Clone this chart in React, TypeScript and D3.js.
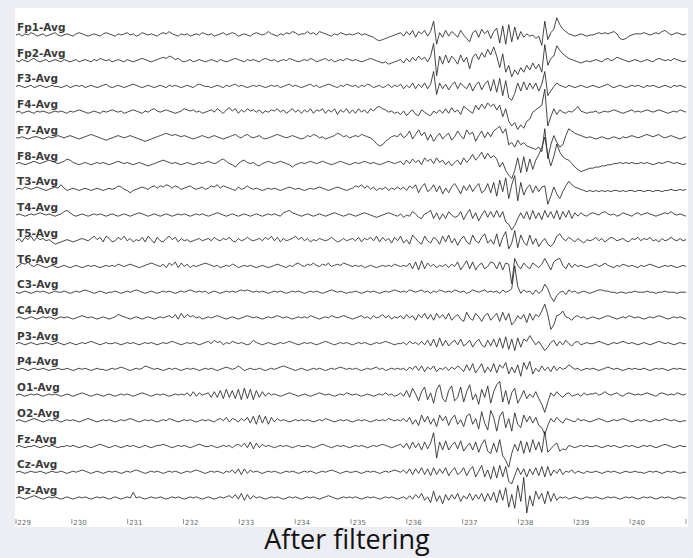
import React from "react";
import * as d3 from "d3";

const CHANNELS = ["Fp1-Avg","Fp2-Avg","F3-Avg","F4-Avg","F7-Avg","F8-Avg","T3-Avg","T4-Avg","T5-Avg","T6-Avg","C3-Avg","C4-Avg","P3-Avg","P4-Avg","O1-Avg","O2-Avg","Fz-Avg","Cz-Avg","Pz-Avg"];
const TICKS = [229,230,231,232,233,234,235,236,237,238,239,240,241];
const TICK_LABELS = ["229","230","231","232","233","234","235","236","237","238","239","240",""];
const T_START = 229;
const T_END = 241;

const FP1 = [
0,1,-1,1,0,2,1,-1,0,1,-1,0,1,2,0,-1,
0,1,0,-1,1,2,1,0,-1,0,1,0,-1,1,2,1,
0,-1,1,0,1,2,0,1,-1,0,2,1,0,1,0,-1,
1,2,1,3,1,0,-1,1,0,1,-1,0,1,0,2,1,
0,1,-1,0,1,2,0,1,2,1,-1,0,1,0,-1,1,
2,1,0,1,3,1,0,-1,1,0,2,1,3,2,0,1,
1,3,1,2,0,3,2,1,0,-1,1,0,2,1,0,1,
0,1,2,0,1,0,-1,-2,-4,-5,-4,-3,-2,-1,0,1,
2,-1,3,0,4,-2,3,1,4,-1,3,12,-8,2,-2,4,
-1,3,1,-2,4,0,-3,-6,2,4,-2,5,1,4,-3,3,
6,-7,8,-8,9,-6,7,-4,3,-2,1,-1,0,-3,-1,-9,
12,-4,2,5,15,9,5,3,1,0,-1,0,1,0,-1,0,
0,1,2,1,2,1,2,3,1,-3,-4,-3,-1,0,1,1,
1,2,1,0,1,2,1,3,4,2,0,1,2,1,0,1];

const FP2 = [
0,-1,1,0,-1,1,2,0,-1,0,1,-1,0,1,0,-1,
1,0,-1,0,1,-1,0,1,0,-1,1,0,2,1,0,1,
-1,0,1,0,-1,1,0,-1,0,1,2,1,0,-1,0,1,
2,3,2,4,3,1,2,0,-1,0,1,-1,0,1,0,-1,
0,1,0,-1,1,0,-1,0,1,2,1,0,-1,1,0,1,
0,-1,1,2,1,0,1,-1,0,1,0,2,1,0,-1,0,
1,0,2,1,-1,0,1,2,0,1,-1,0,1,0,2,1,
0,1,0,-1,0,1,2,1,0,-1,-2,-1,-3,-2,-1,0,
1,-2,2,-1,3,0,4,1,3,-1,4,15,-13,4,-3,5,
-2,4,1,-3,5,-1,3,-7,3,6,1,7,3,10,5,12,
4,-6,6,-10,-4,-14,-8,-12,-6,-10,-4,-8,-2,-7,-3,-10,
14,-4,2,4,13,9,6,4,2,1,0,-1,-2,-1,0,-1,
0,1,0,-1,1,2,0,1,3,2,1,0,-1,0,1,0,
-1,0,1,0,-1,1,2,1,0,1,0,2,1,0,-1,0];

const F3 = [
0,1,0,-1,0,1,-1,0,1,0,-1,0,1,0,0,-1,
0,1,-1,0,1,0,1,-1,0,1,0,-1,0,1,2,0,
-1,0,1,0,-1,0,1,2,1,0,-1,0,1,0,-1,0,
1,0,-1,1,0,1,0,-1,0,1,0,-1,1,2,1,0,
0,-1,0,1,0,-1,1,0,1,2,0,1,0,-1,0,1,
0,1,0,-1,0,1,0,1,-1,0,1,2,0,1,0,-1,
0,1,2,0,1,-1,0,1,2,1,0,-1,1,0,2,1,
0,1,-1,1,0,2,1,-1,0,1,-1,0,2,-1,1,0,
2,-2,1,-1,3,-2,2,-1,3,-2,2,13,-7,3,-2,2,
-3,1,4,-2,3,0,-2,3,-4,1,4,-3,2,5,-4,6,
-5,7,-8,5,-10,-12,-6,3,-4,4,-3,3,-2,3,-4,2,
13,-8,-4,0,3,1,0,-1,1,0,-1,0,1,0,-1,0,
1,0,-1,0,1,2,0,-1,0,1,0,-1,0,1,0,1,
0,-1,1,0,1,0,-1,0,1,0,-1,1,0,1,0,-1];

const F4 = [
0,1,-1,0,1,0,-1,1,0,1,0,-1,0,1,0,1,
0,-1,1,0,1,2,1,0,-1,0,1,0,-1,1,0,1,
2,1,0,1,-1,0,1,2,1,0,-1,1,0,2,3,1,
0,1,2,1,0,-1,0,1,3,2,1,2,0,1,-1,0,
1,2,0,3,1,-1,2,4,1,3,-1,2,0,3,1,2,
0,2,-1,1,0,2,1,3,0,2,-1,1,3,0,2,-1,
2,0,3,-1,2,1,3,-1,2,0,3,-2,2,0,3,-1,
2,-1,3,0,2,-1,3,1,4,5,3,2,0,1,-1,0,
-2,1,-3,0,2,-2,-3,2,0,-2,-3,1,-1,2,-1,3,
-1,4,0,2,-2,5,3,1,-1,6,2,7,3,8,5,7,
2,6,-4,3,-8,-12,-9,-15,-11,-14,-8,-6,0,2,4,6,
20,-12,-4,3,-2,2,0,-1,1,0,2,5,1,0,-1,0,
0,1,-1,0,1,0,1,2,1,0,-1,0,1,2,0,1,
0,1,2,1,0,1,2,1,0,-1,0,1,0,2,1,0];

const F7 = [
0,0,1,0,-1,0,1,1,0,-1,0,1,0,1,2,1,
0,1,2,1,0,-1,0,1,2,3,2,1,0,-1,-2,-1,
0,1,2,1,0,1,2,1,0,-1,-2,-3,-2,-1,0,1,
2,3,4,3,2,3,2,1,2,1,0,-1,0,1,2,1,
0,1,2,1,0,-1,0,1,2,3,1,0,2,3,1,0,
1,2,0,-1,0,1,2,3,2,1,0,1,2,1,0,-1,
0,2,1,3,2,0,1,-1,0,1,2,4,3,1,2,0,
1,2,1,3,2,1,0,-2,-5,-7,-6,-3,-1,1,2,1,
4,0,2,6,-1,3,7,2,5,-2,3,-3,1,4,-1,2,
4,-2,1,6,2,-1,7,3,5,-3,2,6,0,5,1,6,
8,10,4,8,-6,-4,-8,-2,-6,-4,-7,-8,-9,-10,-8,-12,
8,-18,-6,2,-4,-8,-6,2,8,6,4,3,2,1,0,1,
0,-1,0,1,0,-1,0,1,0,-1,1,0,1,2,1,0,
1,2,3,2,1,2,3,1,0,1,2,1,0,-1,0,1];

const F8 = [
0,1,0,-1,0,1,2,1,0,1,2,3,2,1,0,1,
2,4,3,1,0,-1,0,1,0,-1,0,1,0,1,0,-1,
0,1,2,1,0,1,0,-1,0,1,0,-1,-2,-1,0,1,
2,3,2,1,0,1,0,-1,0,1,0,-1,0,1,0,1,
2,1,0,1,3,4,2,0,-1,-3,0,2,3,1,0,1,
-1,-2,0,1,2,1,0,1,2,1,0,-1,-3,-1,0,1,
0,1,2,1,0,1,2,1,0,-1,0,1,2,1,0,-1,
0,1,0,1,2,1,0,1,0,-1,0,1,2,1,0,1,
2,-1,3,0,4,1,3,-1,5,2,4,0,5,1,3,-1,
2,-2,1,3,-1,5,1,4,8,3,6,10,4,9,5,7,
4,-3,1,-6,-10,-13,-6,5,-8,6,-7,4,-5,3,8,14,
23,8,-2,6,17,10,6,4,3,0,-3,-5,-7,-6,-5,-4,
-4,-3,-3,-2,-2,-1,-1,0,0,1,0,1,0,1,0,0,
1,0,1,0,-1,0,1,0,1,2,1,0,1,0,-1,0];

const T3 = [
0,1,0,2,1,0,1,2,1,0,-1,0,1,2,1,4,
1,-1,0,1,0,-1,0,1,0,-1,0,1,0,-1,0,1,
0,1,3,2,0,-1,-3,-1,0,1,2,1,0,2,3,1,
3,2,4,3,1,3,2,0,1,2,3,1,0,1,2,0,
1,3,2,4,1,3,2,1,0,-1,2,0,1,3,1,0,
1,0,-1,0,1,0,1,0,-1,0,1,2,1,0,1,0,
-1,0,1,0,1,2,1,0,-1,0,1,2,1,0,-1,0,
1,3,2,4,1,3,0,2,-1,1,0,2,-1,1,0,2,
0,2,-1,3,1,4,-3,2,5,-2,0,4,-2,3,-4,1,
-3,2,5,1,-4,3,-1,4,-2,2,5,-3,-1,5,-3,6,
-6,8,-2,10,-8,4,12,-10,6,-5,1,4,-3,3,-2,2,
3,-13,-6,2,-4,-8,-2,3,7,4,2,1,0,-1,-2,-1,
-2,-1,-2,-1,-2,-1,-2,-1,-1,-2,-1,-2,-1,-1,-2,-1,
-1,-2,-1,-1,-2,-1,-1,-2,-1,-1,0,-1,-1,0,-1,0];

const T4 = [
0,1,0,-1,0,1,0,1,2,1,0,1,0,-1,0,1,
3,4,2,0,-1,0,1,0,-1,0,1,0,1,0,-1,0,
1,0,-1,0,1,0,-1,0,1,2,1,0,-1,0,1,0,
-1,0,1,0,-1,0,1,0,1,0,-1,0,1,0,1,0,
-1,0,1,2,1,0,-1,0,1,0,-1,0,1,0,-1,0,
1,0,-1,0,1,0,1,0,-1,2,3,4,2,1,0,-1,
0,1,0,-1,0,1,0,-1,0,1,2,1,0,-1,0,1,
0,-1,0,1,2,1,0,-1,-2,-1,0,1,2,1,0,-1,
1,-2,0,-1,3,1,-2,-3,1,2,4,-3,2,-4,1,-3,
3,0,-2,-1,3,-4,1,5,-3,2,-5,0,4,-2,3,-2,
4,-2,3,-6,-8,-13,-9,-3,2,-3,3,-4,4,-3,2,-4,
4,-2,3,-3,4,-4,3,-2,4,-3,2,-1,2,0,-1,1,
2,1,0,2,3,1,0,1,-1,0,2,1,0,-1,1,2,
0,1,2,1,0,-1,0,1,2,1,3,1,0,1,0,-1];

const T5 = [
0,2,-1,3,1,4,0,3,1,2,0,1,-1,-3,-2,-1,
0,1,0,-1,0,1,2,1,0,2,4,1,3,-1,4,2,
-1,0,3,1,4,0,2,-1,1,0,3,-1,4,1,-2,3,
0,-1,2,4,1,3,-1,2,0,1,-1,0,1,2,0,1,
2,0,3,1,0,2,1,3,0,-1,2,0,1,3,1,0,
1,2,0,3,1,4,0,3,-1,2,0,1,2,4,1,3,
0,2,-1,1,0,2,1,0,1,3,1,-1,0,2,0,1,
2,0,3,-1,2,1,3,0,4,-1,3,0,2,-2,3,0,
4,-2,1,-3,5,2,-1,-3,4,0,-2,3,1,-3,4,-1,
5,-2,2,-4,1,4,-1,-3,5,0,-2,3,6,-2,1,-3,
6,-5,3,8,-7,-2,9,-6,5,-1,-4,5,-3,2,-5,-1,
2,-3,-5,-2,4,6,2,0,3,1,-1,2,0,-2,1,0,
1,3,0,2,-1,1,3,2,0,1,2,0,-1,2,1,3,
0,2,1,3,0,1,-1,2,0,1,3,1,0,2,0,1];

const T6 = [
-1,1,3,2,4,1,0,2,1,0,-1,0,1,0,-1,0,
1,0,-1,0,1,0,-1,0,1,0,1,0,-1,0,1,0,
1,0,2,1,0,1,2,1,0,-1,0,1,2,3,2,1,
0,2,-1,3,1,4,-1,3,0,2,-1,1,0,1,2,3,
2,1,0,1,-1,0,1,0,2,1,-1,0,1,0,1,0,
-1,0,1,0,-1,0,1,2,1,0,-1,1,0,2,3,1,
0,2,1,3,1,0,2,1,3,0,1,2,1,3,2,1,
0,1,0,1,-1,0,1,0,-1,0,1,0,1,0,2,1,
0,1,0,3,-2,4,-3,5,-2,3,0,2,-1,1,0,2,
-1,2,0,4,-3,1,5,-2,4,-3,1,3,-2,0,4,3,
-2,4,-3,3,2,-15,7,1,-2,3,0,-2,3,1,-1,2,
7,2,-3,4,6,7,1,-2,3,-1,2,0,1,0,-1,0,
1,2,0,1,3,1,0,-1,1,0,2,1,0,1,0,-1,
1,0,1,2,1,0,-1,0,1,0,1,0,-1,0,1,0];

const C3 = [
0,-1,0,1,0,-1,0,1,0,1,0,-1,0,1,0,0,
1,0,-1,0,1,0,1,2,1,0,-1,0,1,0,-1,0,
0,1,0,-1,0,1,0,1,2,1,0,-1,0,1,0,-1,
0,1,0,1,0,-1,0,1,0,1,2,1,0,1,0,1,
-1,0,1,0,-1,0,1,0,1,0,1,2,1,2,1,0,
1,0,1,0,-1,0,1,0,1,0,-1,0,1,0,1,0,
-1,0,1,0,1,0,-1,0,1,2,1,0,1,0,-1,0,
0,1,0,-1,0,1,0,1,0,-1,0,1,0,1,2,1,
0,1,0,2,1,0,1,2,0,1,-1,1,0,2,1,0,
1,0,2,1,0,1,-1,0,2,1,0,1,2,0,1,0,
1,-1,2,0,1,3,23,5,-1,2,0,1,-2,2,-1,1,
7,3,-4,-8,-3,0,1,-2,2,0,1,-1,0,1,0,-1,
0,1,2,2,1,1,0,0,-1,0,0,-1,0,0,1,0,
0,0,1,0,0,-1,0,0,1,0,0,0,-1,0,0,0];

const C4 = [
0,1,0,-1,0,1,0,-1,0,1,0,1,0,-1,0,1,
0,1,0,-1,0,1,2,1,0,1,0,-1,0,1,0,-1,
0,1,3,2,1,0,-1,0,1,0,-1,0,1,0,-1,0,
1,0,1,2,0,3,-1,4,0,3,1,2,0,1,-1,0,
1,0,1,2,1,0,-1,0,1,0,-1,0,1,2,1,0,
1,0,-1,0,1,0,1,2,1,0,1,0,-1,0,1,0,
1,0,2,1,0,-1,0,1,0,2,1,0,1,2,1,0,
-1,0,1,2,0,1,-1,2,0,1,3,0,2,-1,1,0,
2,-1,3,0,2,-2,3,0,4,-1,3,-2,4,0,3,-1,
4,-2,1,3,-1,-3,5,0,-2,4,1,-3,2,4,-2,1,
4,-3,5,-2,4,-6,-3,2,-1,3,-4,4,-2,3,1,6,
12,3,-10,-6,2,3,6,1,0,-2,1,2,0,1,-1,0,
1,0,-1,0,1,2,1,0,-1,0,1,0,2,1,0,1,
0,-1,0,1,0,1,2,1,0,-1,0,1,0,1,0,-1];

const P3 = [
0,1,0,-1,0,1,0,-1,0,0,1,0,-1,0,1,0,
-1,0,1,0,-1,0,1,0,1,2,1,0,-1,0,1,0,
0,1,0,-1,0,1,0,1,0,-1,0,1,0,1,0,-1,
0,1,0,1,2,1,0,-1,0,1,0,1,0,-1,0,1,
2,0,3,1,2,-1,1,0,2,1,0,1,0,-1,0,3,
1,0,-1,0,1,0,-1,0,1,0,1,2,1,0,-1,0,
1,0,1,0,-1,0,1,2,1,0,-1,0,1,0,1,0,
-1,0,1,0,1,0,-1,0,1,0,1,2,1,0,-1,0,
0,1,-1,2,0,1,-1,2,-1,3,-2,4,-3,5,-2,3,
-2,1,3,-1,4,-2,0,3,-3,1,4,-1,-3,3,-2,4,
-3,5,-4,6,-5,4,-6,5,-3,4,2,7,3,-1,2,-2,
-6,-3,1,3,-2,2,-1,3,0,-2,1,2,-1,0,1,0,
0,1,2,1,0,-1,0,1,0,1,2,1,0,1,0,-1,
0,1,0,-1,0,1,2,1,0,1,0,-1,0,1,0,0];

const P4 = [
0,0,1,0,-1,0,1,0,0,1,0,-1,0,0,1,0,
0,1,0,-1,0,1,0,1,0,-1,0,1,0,0,-1,0,
1,0,1,2,1,0,-1,0,1,0,1,3,2,1,0,1,
0,-1,0,1,0,1,0,-1,0,1,0,1,0,-1,0,1,
0,1,0,-1,0,1,2,1,0,1,3,1,-1,0,1,0,
0,1,0,-1,0,1,0,1,2,3,2,1,0,-1,0,1,
0,-1,0,1,0,1,0,-1,0,1,0,1,2,1,0,1,
0,1,0,-1,0,1,0,1,2,0,1,-1,0,1,0,1,
0,1,-1,2,0,3,-1,3,-2,2,0,3,-2,1,0,2,
-1,2,0,3,1,-2,4,-1,5,-3,1,5,-3,2,-2,5,
-3,4,1,6,-4,2,-3,4,-6,6,0,7,-4,1,-2,3,
-1,2,-2,3,-1,2,0,1,4,2,0,1,-1,0,1,0,
1,0,-1,0,1,2,1,0,1,0,-1,0,1,0,1,0,
0,1,0,-1,0,1,0,1,0,-1,0,1,0,1,0,0];

const O1 = [
0,1,0,-1,0,1,0,1,0,-1,0,1,0,1,0,-1,
0,1,0,-1,0,1,2,1,0,-1,0,1,0,-1,0,1,
0,-1,0,1,0,1,0,-1,0,1,2,1,0,-1,0,1,
0,1,0,-1,0,1,0,1,0,2,-1,3,-1,2,0,1,
2,-2,3,-2,4,-3,5,-2,4,-3,5,-4,6,-3,5,-4,
4,-2,3,-1,2,0,1,0,-1,0,1,2,1,0,-1,0,
1,0,-1,0,1,2,1,0,1,0,-1,0,1,0,2,1,
0,1,0,-1,0,1,0,-1,0,1,0,2,0,1,-1,0,
2,-1,4,-2,6,1,-5,3,7,-4,2,-7,5,9,-3,-6,
4,8,-5,-2,7,-6,3,9,-4,1,-8,5,-2,8,-7,3,
9,12,-6,4,-8,2,6,-7,-2,4,-3,1,-2,3,-3,-8,
-15,-6,2,-1,3,0,-2,1,2,-1,0,1,-1,2,0,1,
1,2,0,1,3,1,0,1,2,0,-1,1,2,1,0,1,
0,1,2,1,0,-1,1,2,1,0,1,0,2,1,0,1];

const O2 = [
0,1,0,-1,0,1,2,1,0,-1,0,1,0,1,0,-1,
0,1,0,1,0,-1,0,1,2,1,0,-1,0,1,0,1,
0,-1,0,1,0,1,2,1,0,-1,0,1,0,1,0,-1,
0,1,0,2,1,0,-1,0,1,0,1,0,-1,0,1,0,
1,0,-1,1,2,0,3,-1,2,1,-1,2,0,3,-2,4,
-3,5,-2,4,-3,3,-1,2,0,1,0,-1,0,1,0,1,
0,1,0,-1,0,1,0,2,1,0,-1,0,1,0,1,0,
-1,0,1,0,1,0,-1,0,1,0,1,0,2,1,0,1,
0,2,-1,3,-3,1,-4,5,-1,4,-3,2,-5,5,0,4,
-4,2,5,-3,1,-5,4,6,-3,2,-7,8,-2,-8,9,3,
-9,4,8,-6,2,-9,7,-3,-6,5,-1,4,-2,3,-4,-6,
-12,-4,2,-1,3,0,-2,2,1,0,-1,2,0,1,0,-1,
0,1,2,1,0,-1,0,1,0,1,2,1,0,-1,0,1,
0,1,0,-1,0,1,0,1,2,1,0,1,0,-1,0,0];

const FZ = [
0,1,0,-1,0,0,1,0,-1,0,1,0,1,0,-1,0,
0,1,0,1,0,-1,0,1,0,-1,0,1,2,1,0,-1,
0,1,0,-1,0,1,0,1,0,-1,0,1,0,-1,0,1,
1,2,1,0,-1,0,1,0,1,0,-1,0,1,2,1,0,
0,1,0,-1,0,1,0,1,-1,1,2,0,3,-1,4,-2,
3,-1,2,0,1,0,-1,0,1,0,1,0,-1,0,1,0,
0,1,0,-1,0,1,2,1,0,-1,0,1,0,1,0,-1,
0,1,0,1,0,-1,0,1,0,1,2,1,0,-1,0,1,
2,-1,3,-2,4,-1,3,-3,4,-2,3,12,-10,4,-3,5,
-3,1,4,-2,5,-4,0,3,-3,4,-5,2,6,-4,-6,3,
-5,6,-8,-12,-18,-6,2,-4,5,-6,4,-5,6,-3,4,-5,
13,-5,-2,1,3,-4,-2,-3,1,0,-1,0,1,0,1,0,
0,1,0,-1,0,1,0,1,0,-1,0,1,0,1,0,-1,
0,1,0,1,0,-1,0,1,2,1,0,-1,0,1,0,0];

const CZ = [
0,1,0,-1,0,1,0,0,1,0,-1,0,1,0,0,1,
0,-1,0,1,0,1,2,1,0,-1,0,1,0,-1,0,1,
0,1,0,-1,0,1,0,1,2,1,0,-1,0,1,0,1,
0,-1,0,1,0,1,0,-1,0,1,0,1,2,1,0,-1,
0,1,0,1,0,-1,1,0,2,-1,3,-2,3,-1,2,0,
1,0,-1,0,1,0,1,0,-1,0,1,0,1,0,-1,0,
1,0,1,0,-1,0,1,0,1,2,1,0,-1,0,1,0,
0,1,0,-1,0,1,0,1,0,-1,0,1,0,1,2,1,
0,2,-1,3,-2,3,-1,4,-2,3,-3,4,-2,3,-1,4,
-3,1,4,-2,0,4,-3,2,5,-4,1,6,-4,2,-6,5,
-5,6,-4,5,-8,-10,-3,4,-2,3,-4,3,-2,4,-3,5,
-4,5,-3,2,-1,3,-2,1,0,2,-1,1,0,-1,1,0,
0,1,0,-1,0,1,0,1,0,-1,0,1,0,0,1,0,
0,-1,0,1,0,1,0,-1,0,1,0,1,0,-1,0,0];

const PZ = [
0,1,0,-1,0,1,2,1,0,-1,0,1,0,1,0,-1,
0,1,0,-1,0,1,0,1,0,-1,0,1,0,1,0,-1,
0,1,0,-1,0,1,0,5,0,1,0,-1,0,1,0,0,
1,0,-1,0,1,0,1,0,-1,0,1,0,1,0,-1,0,
1,0,-1,0,1,0,1,2,0,3,-1,4,-2,3,-1,2,
0,1,0,-1,0,1,0,1,0,-1,0,1,0,1,0,-1,
0,1,0,1,0,-1,0,1,2,1,0,-1,0,1,0,1,
0,1,0,-1,0,1,0,1,0,-1,0,1,0,1,0,-1,
0,1,-1,2,-1,3,0,4,-2,1,-4,6,-3,2,-5,3,
-2,3,-1,4,-3,2,-1,4,-2,3,-1,4,-3,4,-2,5,
-4,7,-2,9,-8,3,-9,11,-3,18,-13,2,-7,6,-1,4,
-5,6,-3,4,-2,1,0,1,-1,0,1,0,-1,0,1,0,
0,1,0,-1,0,1,0,1,0,-1,0,1,0,1,0,-1,
0,1,0,1,0,-1,0,1,0,1,0,-1,0,1,0,0];

const SIGNALS = [FP1,FP2,F3,F4,F7,F8,T3,T4,T5,T6,C3,C4,P3,P4,O1,O2,FZ,CZ,PZ];

export default function App() {
  const W = 693, H = 558;
  const x = d3.scaleLinear().domain([T_START, T_END]).range([16, 686]);
  const chY = d3.scaleLinear().domain([0, CHANNELS.length - 1]).range([35, 498]);
  const amp = d3.scaleLinear().domain([-10, 10]).range([11.5, -11.5]);

  return (
    <div style={{ position: "absolute", left: 0, top: 0, width: W, height: H }}>
      <svg width={W} height={H} style={{ display: "block" }}>
        <rect x={0} y={0} width={W} height={H} fill="#eceef3" />
        <rect x={15} y={8} width={673} height={519} fill="#ffffff" />
        {SIGNALS.map((sig, ci) => {
          const n = sig.length;
          const dt = (T_END - T_START) / (n - 1);
          const base = chY(ci);
          const line = d3.line<number>()
            .x((_, i) => x(T_START + i * dt))
            .y((v) => base + amp(v));
          return (
            <g key={ci}>
              <path d={line(sig) || ""} fill="none" stroke="#262626" strokeWidth={0.85} strokeLinejoin="round" />
              <text x={17} y={base - 4} fontFamily="DejaVu Sans, Verdana, sans-serif" fontSize={10.5} fontWeight="bold" fill="#3a3a3a">{CHANNELS[ci]}</text>
            </g>
          );
        })}
        {TICKS.map((t, i) => (
          <g key={t}>
            <line x1={x(t)} x2={x(t)} y1={519} y2={524} stroke="#777" strokeWidth={0.8} />
            {TICK_LABELS[i] ? (
              <text x={x(t) + 1.5} y={524.5} fontFamily="DejaVu Sans, sans-serif" fontSize={7} fill="#666">{TICK_LABELS[i]}</text>
            ) : null}
          </g>
        ))}
        <text x={347} y={549} textAnchor="middle" fontFamily="Open Sans, Noto Sans, sans-serif" fontSize={27} fill="#111">After filtering</text>
      </svg>
    </div>
  );
}
